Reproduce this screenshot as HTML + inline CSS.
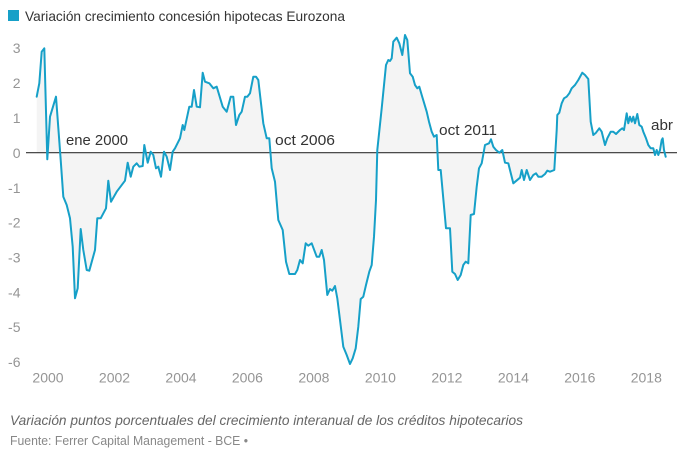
<!DOCTYPE html>
<html>
<head>
<meta charset="utf-8">
<style>
html,body{margin:0;padding:0;background:#fff;}
svg{display:block;}
text{font-family:"Liberation Sans",Arial,sans-serif;}
</style>
</head>
<body>
<svg width="680" height="459" viewBox="0 0 680 459" xmlns="http://www.w3.org/2000/svg">
<rect x="0" y="0" width="680" height="459" fill="#fff"/>
<!-- title -->
<rect x="8" y="10" width="11" height="11" fill="#16a0c8"/>
<text x="25" y="21" font-size="14" fill="#333" textLength="320" lengthAdjust="spacingAndGlyphs">Variación crecimiento concesión hipotecas Eurozona</text>

<!-- y labels -->
<g font-size="14" fill="#959595" text-anchor="end">
<text x="20.5" y="53">3</text>
<text x="20.5" y="88">2</text>
<text x="20.5" y="123">1</text>
<text x="20.5" y="158">0</text>
<text x="20.5" y="193">-1</text>
<text x="20.5" y="227.5">-2</text>
<text x="20.5" y="262.5">-3</text>
<text x="20.5" y="297.5">-4</text>
<text x="20.5" y="332">-5</text>
<text x="20.5" y="367">-6</text>
</g>
<!-- x labels -->
<g font-size="14" fill="#959595" text-anchor="middle">
<text x="48" y="382.5">2000</text>
<text x="114.5" y="382.5">2002</text>
<text x="181" y="382.5">2004</text>
<text x="247.4" y="382.5">2006</text>
<text x="313.9" y="382.5">2008</text>
<text x="380.4" y="382.5">2010</text>
<text x="446.9" y="382.5">2012</text>
<text x="513.4" y="382.5">2014</text>
<text x="579.8" y="382.5">2016</text>
<text x="646.3" y="382.5">2018</text>
</g>

<!-- area fill -->
<path fill="#f4f4f4" stroke="none" d="M36.7,152.7 L36.7,96.7 39.3,83.3 41.7,51.7 44.3,48.3 47.3,159.3 50,116.7 56,96.7 60.7,160 63.3,196.7 66.7,205 70,218.3 72.7,246.7 75,298.3 77.7,288.3 80.7,229 83.3,250 86.7,270 89.3,270.7 95,250 97.3,218.3 100.7,218.3 106,208.3 108.3,180.7 111,201.7 116.7,191.7 125,180.7 127.7,162.7 130.7,176.7 133.3,166.7 136.7,163.3 139.3,166.7 142.7,166 144.3,145 147.7,162.7 150.7,151.7 153.3,155 156,168.3 158.3,166.7 161,176.7 164,151.7 166.7,156.7 170,170 172.7,151.7 175,148.3 180,138.3 182.7,125 184.3,130 189.3,106.7 191.7,106.7 194,90 196.7,106.7 200,107.3 202.7,72.7 205,81.7 209.3,83.3 213.3,88.3 216.7,86.7 222.7,106.7 226.7,111.7 230.7,96.7 233.3,96.7 236,125 239.3,115 241.7,111.7 245,96.7 247.3,96.7 250,93.3 253.3,76.7 256,76.7 258.3,80 263.3,123.3 266.7,138.3 269.3,138.3 271.7,168.3 275,181.7 278.3,220 282.7,230 286,261.7 289.3,274 295,274 297.3,270 300,260 302.7,263.3 305.7,243.3 308.3,245.7 311.7,243.3 316.7,256.7 319.3,256.7 321.7,250 324,260 327.3,295 330,289 332.3,290.7 335,286 337.3,298.3 340,320 343.3,346.7 346.7,355 350,364 352.7,358.3 355.7,348.3 358.3,326.7 360.7,299 363.3,296.7 366,285 369.3,271.7 371.7,265 374,236.7 376,200 377.3,150 381.7,108.3 386,65 388.3,60 390,61 391.7,58.3 393.3,41.7 396.7,37.7 399.3,43.3 402.3,55 405,35 407.3,40 410,73.3 412.7,76.7 415,85 417.3,88.3 419.3,86.7 421.7,95 426.7,111.7 429,121.7 431.7,131.7 434,136.7 436.7,135 438.3,170 440.7,170 446,228.3 450,228.3 452.3,271.7 455,274 457.7,280 460.7,275 463.3,265 465.7,261.7 468.3,263.3 470.7,215 474,214 476.7,186.7 479,168.3 481.7,163.3 485,145 489,143.3 491,139.3 493.3,146.7 496,150 499.3,152.7 502.3,150 505,162.7 508.3,163.3 513.3,183.3 520,177.7 521.7,170 524,180 526.7,170 530,180 533.3,175 536,173.3 538.3,176.7 541.7,176.7 545,174 547.3,170.7 550,171.7 554.3,170 556.7,130 557.3,115 559.3,112.7 561.7,103.3 564,98.3 566.7,96.7 569.3,93.3 571.7,88.3 575,85 578.3,80 582.3,72.7 585,75 588.3,79 590.7,121.7 593.3,135 596,132.7 599.3,128.3 601.7,131.7 605,145 607.3,138.3 610.7,131.7 613.3,131.7 616,134 620,130 622.3,128.3 624,130 626.7,113.3 628.3,123.3 630,116.7 631.7,121.7 633.3,116.7 635,123.3 637.3,114 639.3,125 641.7,126.7 643.3,131.7 646,138.3 648.3,145 650.7,148.3 653.3,148.3 655,155 656.7,150 658.3,155 660,150 661.7,140 662.7,138.3 664,150 665.7,156.7 L665.7,152.7 Z"/>

<!-- zero line -->
<line x1="26" y1="152.7" x2="677" y2="152.7" stroke="#333" stroke-width="1.2"/>

<!-- series line -->
<polyline fill="none" stroke="#16a0c8" stroke-width="2" stroke-linejoin="round" stroke-linecap="round" points="36.7,96.7 39.3,83.3 41.7,51.7 44.3,48.3 47.3,159.3 50,116.7 56,96.7 60.7,160 63.3,196.7 66.7,205 70,218.3 72.7,246.7 75,298.3 77.7,288.3 80.7,229 83.3,250 86.7,270 89.3,270.7 95,250 97.3,218.3 100.7,218.3 106,208.3 108.3,180.7 111,201.7 116.7,191.7 125,180.7 127.7,162.7 130.7,176.7 133.3,166.7 136.7,163.3 139.3,166.7 142.7,166 144.3,145 147.7,162.7 150.7,151.7 153.3,155 156,168.3 158.3,166.7 161,176.7 164,151.7 166.7,156.7 170,170 172.7,151.7 175,148.3 180,138.3 182.7,125 184.3,130 189.3,106.7 191.7,106.7 194,90 196.7,106.7 200,107.3 202.7,72.7 205,81.7 209.3,83.3 213.3,88.3 216.7,86.7 222.7,106.7 226.7,111.7 230.7,96.7 233.3,96.7 236,125 239.3,115 241.7,111.7 245,96.7 247.3,96.7 250,93.3 253.3,76.7 256,76.7 258.3,80 263.3,123.3 266.7,138.3 269.3,138.3 271.7,168.3 275,181.7 278.3,220 282.7,230 286,261.7 289.3,274 295,274 297.3,270 300,260 302.7,263.3 305.7,243.3 308.3,245.7 311.7,243.3 316.7,256.7 319.3,256.7 321.7,250 324,260 327.3,295 330,289 332.3,290.7 335,286 337.3,298.3 340,320 343.3,346.7 346.7,355 350,364 352.7,358.3 355.7,348.3 358.3,326.7 360.7,299 363.3,296.7 366,285 369.3,271.7 371.7,265 374,236.7 376,200 377.3,150 381.7,108.3 386,65 388.3,60 390,61 391.7,58.3 393.3,41.7 396.7,37.7 399.3,43.3 402.3,55 405,35 407.3,40 410,73.3 412.7,76.7 415,85 417.3,88.3 419.3,86.7 421.7,95 426.7,111.7 429,121.7 431.7,131.7 434,136.7 436.7,135 438.3,170 440.7,170 446,228.3 450,228.3 452.3,271.7 455,274 457.7,280 460.7,275 463.3,265 465.7,261.7 468.3,263.3 470.7,215 474,214 476.7,186.7 479,168.3 481.7,163.3 485,145 489,143.3 491,139.3 493.3,146.7 496,150 499.3,152.7 502.3,150 505,162.7 508.3,163.3 513.3,183.3 520,177.7 521.7,170 524,180 526.7,170 530,180 533.3,175 536,173.3 538.3,176.7 541.7,176.7 545,174 547.3,170.7 550,171.7 554.3,170 556.7,130 557.3,115 559.3,112.7 561.7,103.3 564,98.3 566.7,96.7 569.3,93.3 571.7,88.3 575,85 578.3,80 582.3,72.7 585,75 588.3,79 590.7,121.7 593.3,135 596,132.7 599.3,128.3 601.7,131.7 605,145 607.3,138.3 610.7,131.7 613.3,131.7 616,134 620,130 622.3,128.3 624,130 626.7,113.3 628.3,123.3 630,116.7 631.7,121.7 633.3,116.7 635,123.3 637.3,114 639.3,125 641.7,126.7 643.3,131.7 646,138.3 648.3,145 650.7,148.3 653.3,148.3 655,155 656.7,150 658.3,155 660,150 661.7,140 662.7,138.3 664,150 665.7,156.7"/>

<!-- annotations -->
<g font-size="15" fill="#333">
<text x="66" y="145" textLength="62" lengthAdjust="spacingAndGlyphs">ene 2000</text>
<text x="275" y="145" textLength="60" lengthAdjust="spacingAndGlyphs">oct 2006</text>
<text x="439" y="135" textLength="58" lengthAdjust="spacingAndGlyphs">oct 2011</text>
<text x="651" y="130" textLength="22" lengthAdjust="spacingAndGlyphs">abr</text>
</g>

<!-- footer -->
<text x="10" y="425" font-size="14" font-style="italic" fill="#666" textLength="513" lengthAdjust="spacingAndGlyphs">Variación puntos porcentuales del crecimiento interanual de los créditos hipotecarios</text>
<text x="10" y="445" font-size="12.5" fill="#888" textLength="238" lengthAdjust="spacingAndGlyphs">Fuente: Ferrer Capital Management - BCE •</text>
</svg>
</body>
</html>
